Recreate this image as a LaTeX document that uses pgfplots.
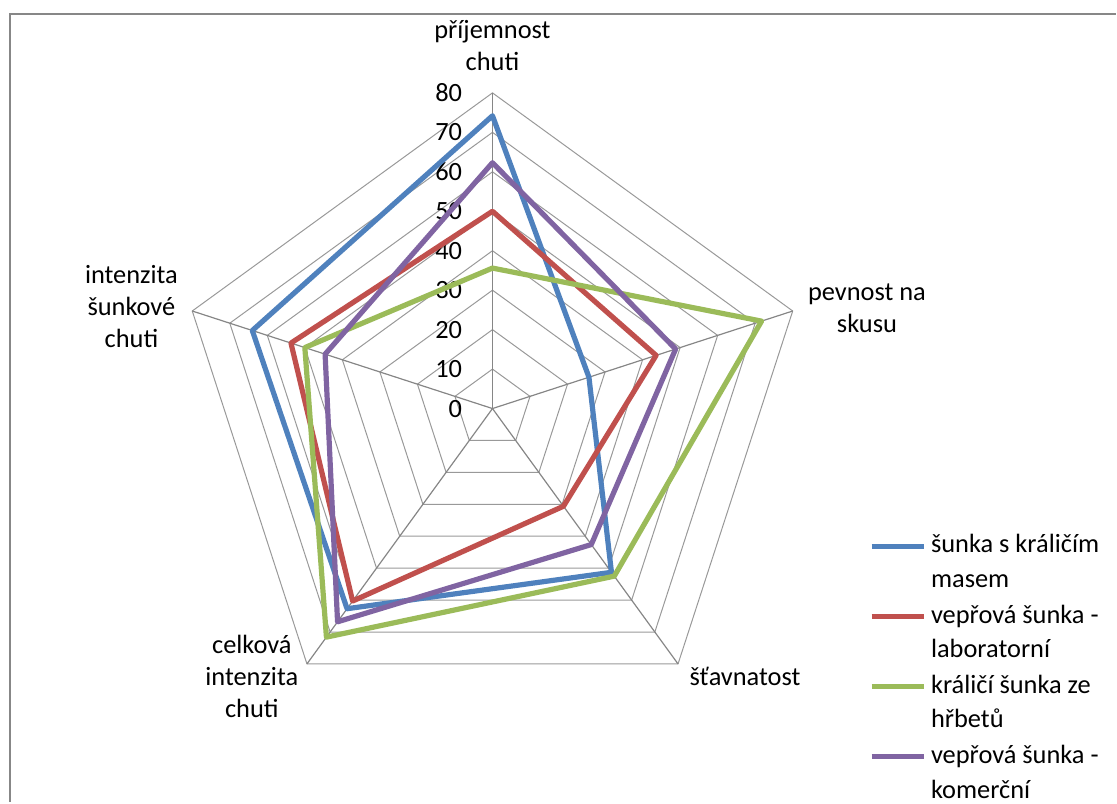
\documentclass[border=0pt]{standalone}
\usepackage{fontspec}
\setmainfont{Carlito}
\usepackage{pgfplots}
\usepgfplotslibrary{polar}
\pgfplotsset{compat=1.18}
\definecolor{serA}{HTML}{4F81BD}
\definecolor{serB}{HTML}{C0504D}
\definecolor{serC}{HTML}{9BBB59}
\definecolor{serD}{HTML}{8064A2}
\definecolor{spokegray}{HTML}{868686}
\definecolor{ringgray}{HTML}{999999}
\definecolor{framegray}{HTML}{878787}
\newcommand{\lblfont}{\fontsize{13.2}{16}\selectfont}
\newcommand{\twoline}[2]{\begin{tabular}[t]{@{}l@{}}#1\\#2\end{tabular}}
\begin{document}
\begin{tikzpicture}
\begin{axis}[
    x=1.975pt, y=1.975pt,
    xmin=-124.81, xmax=157.97, ymin=-99.75, ymax=103.54,
    hide axis, clip=false,
    serie/.style={line width=2.6pt, line join=round},
    legend style={at={(axis cs:95.4,-30.4)}, anchor=north west,
        draw=none, fill=none, inner sep=0pt, outer sep=0pt,
        column sep=2pt, row sep=22.9pt,
        font=\fontsize{13.2}{17.4}\selectfont,
        cells={anchor=base west},
        nodes={inner sep=0pt, text height=12.2pt, text depth=0pt}},
    legend image code/.code={\draw[#1] (0pt,3.3pt) -- (26.5pt,3.3pt);},
]
\path (rel axis cs:0,0) rectangle (rel axis cs:1,1);
\draw[line width=1.2pt, framegray] (axis cs:-122.3,-99.75) -- (axis cs:-122.3,100) -- (axis cs:157.97,100);

% pentagon rings and spokes
\pgfplotsinvokeforeach{10,20,...,80}{
    \addplot[forget plot, ringgray, line width=0.5pt, data cs=polar] coordinates {(90,#1) (18,#1) (-54,#1) (-126,#1) (-198,#1)} --cycle;
}
\pgfplotsinvokeforeach{90,18,-54,-126,-198}{
    \addplot[forget plot, spokegray, line width=0.6pt, data cs=polar] coordinates {(#1,0) (#1,80)};
}
\pgfplotsinvokeforeach{0,10,...,80}{
    \node[anchor=east, inner sep=0pt, font=\lblfont] at (axis cs:-7.6,#1) {#1};
}

% angles: 90 prijemnost, 18 pevnost, -54 stavnatost, -126 celkova, -198 intenzita sunkove
\addplot[serie, serA, data cs=polar] coordinates {(90,74.2) (18,25.7) (-54,51.3) (-126,62.7) (-198,64.0)} --cycle;
\addlegendentry{\twoline{šunka s králičím}{masem}}
\addplot[serie, serB, data cs=polar] coordinates {(90,50.0) (18,43.6) (-54,30.6) (-126,60.3) (-198,53.7)} --cycle;
\addlegendentry{\twoline{vepřová šunka -}{laboratorní}}
\addplot[serie, serC, data cs=polar] coordinates {(90,35.6) (18,71.7) (-54,52.5) (-126,71.6) (-198,50.0)} --cycle;
\addlegendentry{\twoline{králičí šunka ze}{hřbetů}}
\addplot[serie, serD, data cs=polar] coordinates {(90,62.3) (18,48.8) (-54,42.6) (-126,66.8) (-198,44.6)} --cycle;
\addlegendentry{\twoline{vepřová šunka -}{komerční}}

% category labels
\node[align=center, inner sep=0pt, font=\lblfont] at (axis cs:0,91.9) {příjemnost\\chuti};
\node[align=center, inner sep=0pt, font=\lblfont] at (axis cs:94.9,25.4) {pevnost na\\skusu};
\node[align=center, inner sep=0pt, font=\lblfont] at (axis cs:64,-67.8) {šťavnatost};
\node[align=center, inner sep=0pt, font=\lblfont] at (axis cs:-61,-67.8) {celková\\intenzita\\chuti};
\node[align=center, inner sep=0pt, font=\lblfont] at (axis cs:-91.5,25.8) {intenzita\\šunkové\\chuti};
\end{axis}
\end{tikzpicture}
\end{document}
